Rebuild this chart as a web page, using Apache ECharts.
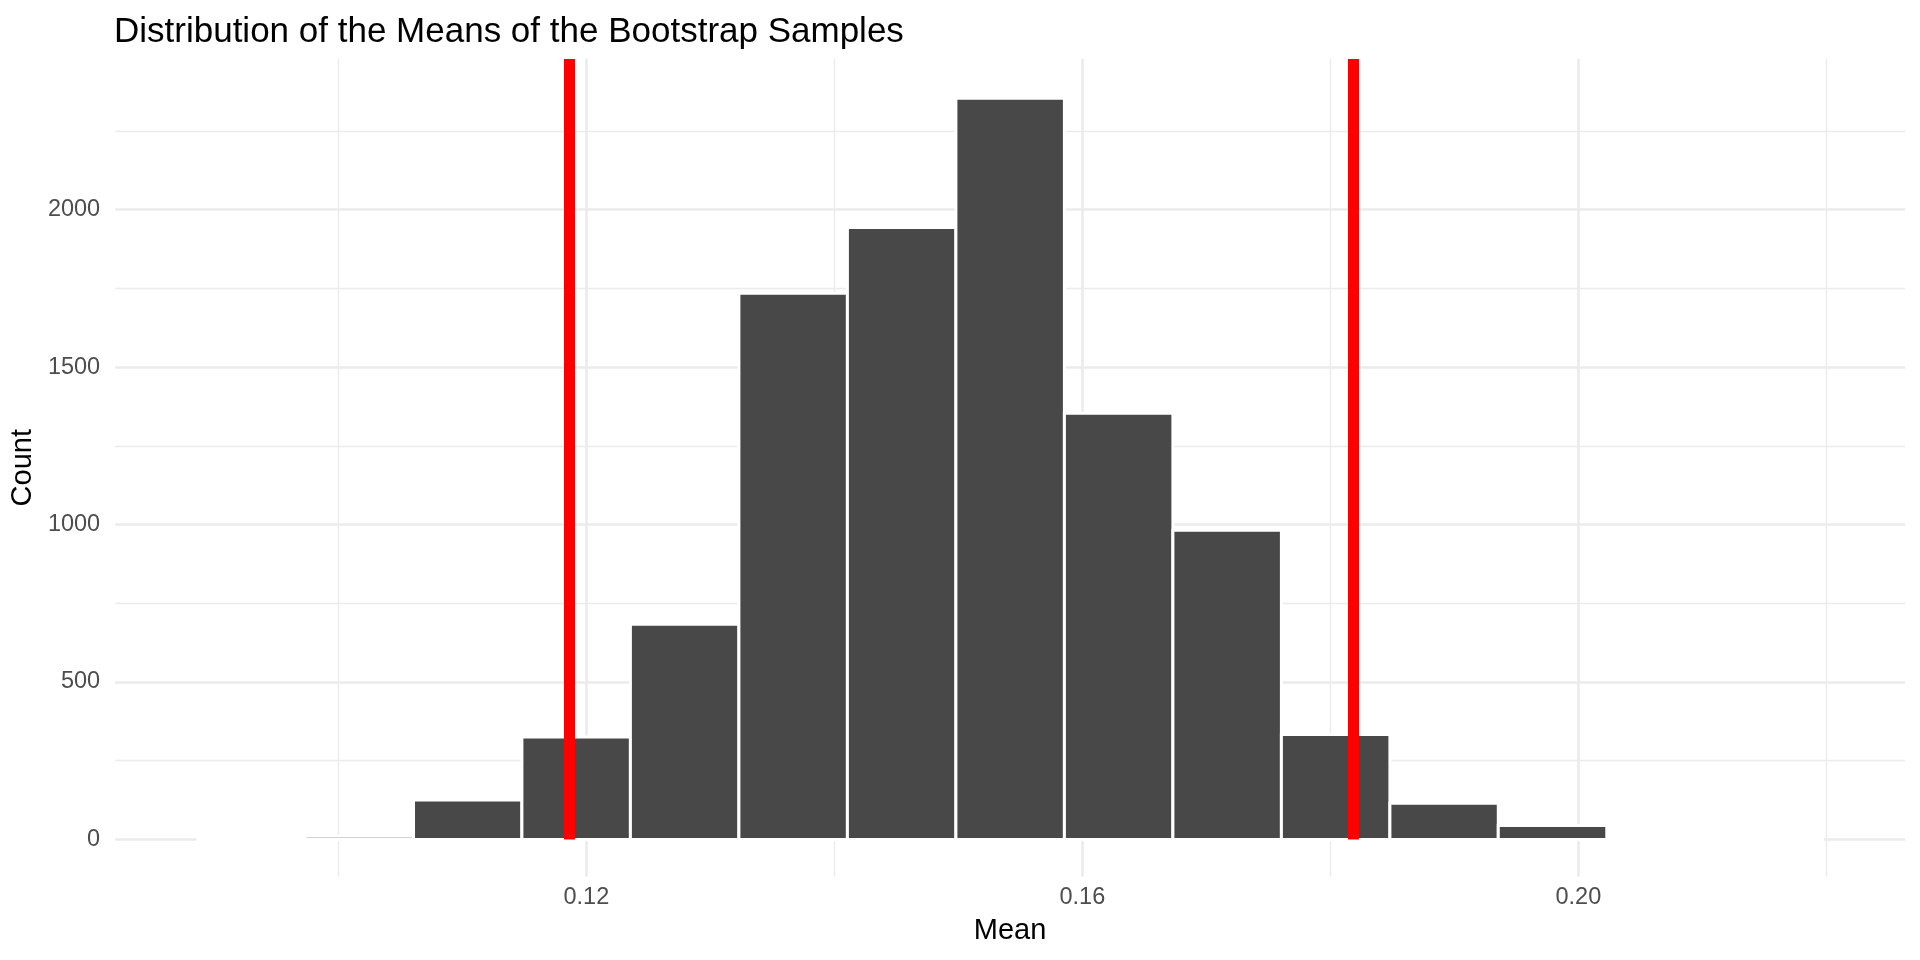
<!DOCTYPE html>
<html lang="en">
<head>
    <meta charset="UTF-8">
    <title>Distribution of the Means of the Bootstrap Samples</title>
    <style>
        html, body { margin: 0; padding: 0; background: #ffffff; }
        #container { width: 1920px; height: 960px; }
    </style>
</head>
<body>
    <div id="container"></div>
</body>
<script src="https://cdn.jsdelivr.net/npm/echarts/dist/echarts.min.js"></script>
<script>
    // histogram bins (bin edges on the Mean axis) and counts per bin
    var binEdges = [0.08856, 0.09731, 0.10606, 0.11480, 0.12355, 0.13230, 0.14105, 0.14980,
        0.15855, 0.16730, 0.17605, 0.18480, 0.19354, 0.20229, 0.21104, 0.21979];
    var counts = [0, 10, 125, 325, 683, 1734, 1943, 2353, 1353, 982, 333, 115, 44, 0, 0];
    // confidence interval bounds (red vertical lines)
    var ciBounds = [0.11858, 0.18185];

    var yMin = -117.65;
    var yMax = 2478;

    var bars = [];
    for (var i = 0; i < counts.length; i++) {
        bars.push([binEdges[i], binEdges[i + 1], counts[i]]);
    }

    var fontFamily = '"Liberation Sans", Arial, Helvetica, sans-serif';
    var chart = echarts.init(document.getElementById('container'));

    var option = {
        backgroundColor: '#ffffff',
        animation: false,
        title: {
            text: 'Distribution of the Means of the Bootstrap Samples',
            left: 109,
            top: 10,
            textStyle: {
                fontFamily: fontFamily,
                fontSize: 35,
                fontWeight: 'normal',
                color: '#000000'
            }
        },
        grid: {
            left: 115,
            right: 15,
            top: 59,
            bottom: 83.5
        },
        xAxis: {
            type: 'value',
            min: 0.082,
            max: 0.22634,
            minInterval: 0.04,
            maxInterval: 0.04,
            name: 'Mean',
            nameLocation: 'middle',
            nameGap: 40,
            nameTextStyle: { fontFamily: fontFamily, fontSize: 29, color: '#000000' },
            axisLine: { show: false },
            axisTick: { show: false },
            axisLabel: {
                showMinLabel: false,
                showMaxLabel: false,
                margin: 9,
                fontFamily: fontFamily,
                fontSize: 23.5,
                color: '#4D4D4D',
                formatter: function (v) { return v.toFixed(2); }
            },
            splitLine: {
                show: true,
                showMinLine: false,
                showMaxLine: false,
                lineStyle: { color: '#EBEBEB', width: 2.6 }
            },
            minorTick: { show: false, splitNumber: 2 },
            minorSplitLine: {
                show: true,
                lineStyle: { color: '#EBEBEB', width: 1.4 }
            }
        },
        yAxis: {
            type: 'value',
            min: yMin,
            max: yMax,
            minInterval: 500,
            maxInterval: 500,
            name: 'Count',
            nameLocation: 'middle',
            nameGap: 71,
            nameTextStyle: { fontFamily: fontFamily, fontSize: 29, color: '#000000' },
            axisLine: { show: false },
            axisTick: { show: false },
            axisLabel: {
                showMinLabel: false,
                showMaxLabel: false,
                margin: 15,
                fontFamily: fontFamily,
                fontSize: 23.5,
                color: '#4D4D4D',
                formatter: function (v) { return String(v); }
            },
            splitLine: {
                show: true,
                showMinLine: false,
                showMaxLine: false,
                lineStyle: { color: '#EBEBEB', width: 2.6 }
            },
            minorTick: { show: false, splitNumber: 2 },
            minorSplitLine: {
                show: true,
                lineStyle: { color: '#EBEBEB', width: 1.4 }
            }
        },
        series: [{
            type: 'custom',
            data: bars,
            encode: { x: [0, 1], y: 2 },
            renderItem: function (params, api) {
                var topLeft = api.coord([api.value(0), api.value(2)]);
                var bottomRight = api.coord([api.value(1), 0]);
                return {
                    type: 'rect',
                    shape: {
                        x: topLeft[0],
                        y: topLeft[1],
                        width: bottomRight[0] - topLeft[0],
                        height: bottomRight[1] - topLeft[1]
                    },
                    style: {
                        fill: '#484848',
                        stroke: '#ffffff',
                        lineWidth: 3
                    }
                };
            },
            markLine: {
                silent: true,
                precision: 6,
                symbol: 'none',
                label: { show: false },
                lineStyle: { color: '#FF0000', width: 11, type: 'solid', cap: 'butt' },
                data: ciBounds.map(function (v) {
                    return [{ coord: [v, 0] }, { coord: [v, yMax] }];
                })
            }
        }]
    };
    chart.setOption(option);
</script>
</html>
